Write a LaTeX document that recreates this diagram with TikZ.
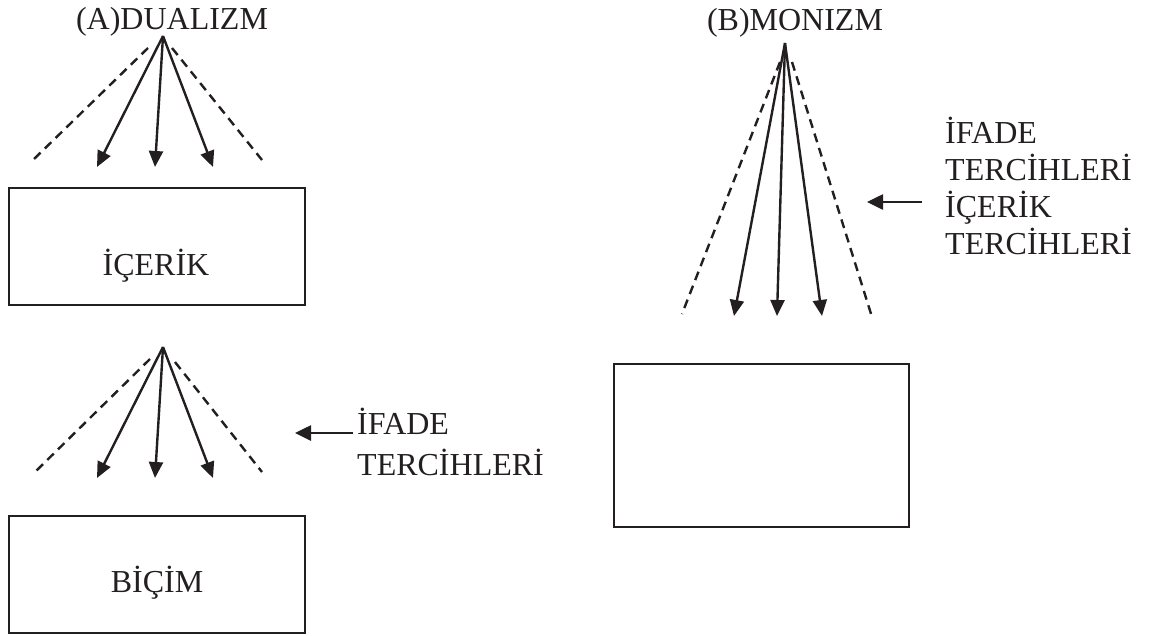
\documentclass[tikz,border=0pt]{standalone}
\usepackage{fontspec}
\setmainfont{Liberation Serif}
\usetikzlibrary{arrows.meta}
\definecolor{ink}{RGB}{35,31,32}
\begin{document}
\begin{tikzpicture}[x=1pt,y=-1pt,
  txt/.style={inner sep=0pt,text=ink,font=\fontsize{32}{37}\selectfont},
  box/.style={draw=ink,line width=2.4pt},
  ray/.style={draw=ink,line width=2.4pt,-{Triangle[length=16pt,width=14pt]}},
  dray/.style={draw=ink,line width=2.4pt,dash pattern=on 9pt off 6pt},
  pointer/.style={draw=ink,line width=2.6pt,-{Triangle[length=16pt,width=15pt]}}]
\useasboundingbox (0,0) rectangle (1154,635);

% ---------- (A) DUALIZM ----------
\node[txt,anchor=base] (titleA) at (172,29) {(A)DUALIZM};
\coordinate (apexA) at (163,36);
\coordinate (a1) at (97,167);
\coordinate (a2) at (155,167);
\coordinate (a3) at (213,167);
\coordinate (dAl1) at (148,48);
\coordinate (dAl2) at (33,160);
\coordinate (dAr1) at (172,48);
\coordinate (dAr2) at (262,160);
\draw[ray] (apexA) -- (a1);
\draw[ray] (apexA) -- (a2);
\draw[ray] (apexA) -- (a3);
\draw[dray] (dAl1) -- (dAl2);
\draw[dray] (dAr1) -- (dAr2);

\node[box,minimum width=296pt,minimum height=117pt,inner sep=0pt,anchor=north west] (icerik) at (8,187) {};
\node[txt,anchor=base] (icerikT) at (156,275) {İÇERİK};

\coordinate (apexA2) at (163,347);
\coordinate (b1) at (97,478);
\coordinate (b2) at (155,478);
\coordinate (b3) at (213,478);
\coordinate (dBl1) at (150,359);
\coordinate (dBl2) at (35,472);
\coordinate (dBr1) at (175,362);
\coordinate (dBr2) at (262,472);
\draw[ray] (apexA2) -- (b1);
\draw[ray] (apexA2) -- (b2);
\draw[ray] (apexA2) -- (b3);
\draw[dray] (dBl1) -- (dBl2);
\draw[dray] (dBr1) -- (dBr2);

\node[txt,anchor=base west] (ifA1) at (357,434) {İFADE};
\node[txt,anchor=base west] (ifA2) at (357,475) {TERCİHLERİ};
\coordinate (pA0) at (353,433);
\coordinate (pA1) at (295,433);
\draw[pointer] (pA0) -- (pA1);

\node[box,minimum width=296pt,minimum height=117pt,inner sep=0pt,anchor=north west] (bicim) at (8,515) {};
\node[txt,anchor=base] (bicimT) at (157,592) {BİÇİM};

% ---------- (B) MONIZM ----------
\node[txt,anchor=base] (titleB) at (795,30) {(B)MONIZM};
\coordinate (apexB) at (785,43);
\coordinate (c1) at (734,316);
\coordinate (c2) at (777,316);
\coordinate (c3) at (822,316);
\coordinate (dCl1) at (780,62);
\coordinate (dCl2) at (682,314);
\coordinate (dCr1) at (792,62);
\coordinate (dCr2) at (872,317);
\draw[ray] (apexB) -- (c1);
\draw[ray] (apexB) -- (c2);
\draw[ray] (apexB) -- (c3);
\draw[dray] (dCl1) -- (dCl2);
\draw[dray] (dCr1) -- (dCr2);

\node[txt,anchor=base west] (ifB1) at (945,143) {İFADE};
\node[txt,anchor=base west] (ifB2) at (945,180) {TERCİHLERİ};
\node[txt,anchor=base west] (ifB3) at (945,217) {İÇERİK};
\node[txt,anchor=base west] (ifB4) at (945,254) {TERCİHLERİ};
\coordinate (pB0) at (922,202);
\coordinate (pB1) at (867,202);
\draw[pointer] (pB0) -- (pB1);

\node[box,minimum width=295pt,minimum height=163pt,inner sep=0pt,anchor=north west] (boxB) at (613,363) {};
\end{tikzpicture}
\end{document}
